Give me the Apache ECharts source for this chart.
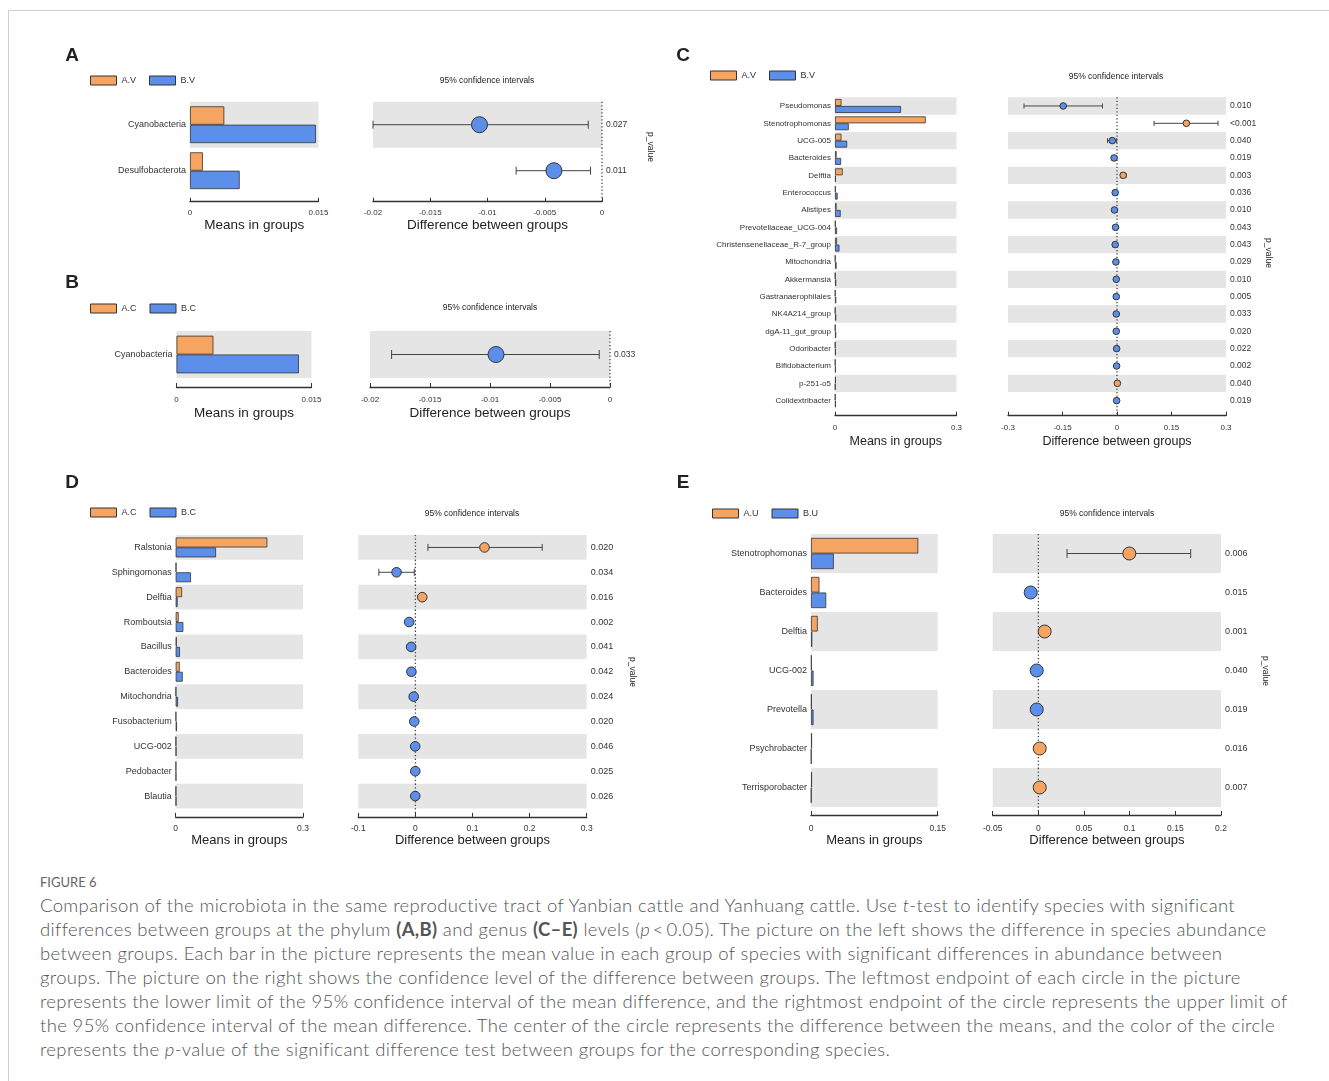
<!DOCTYPE html>
<html>
<head>
<meta charset="utf-8">
<title>Figure 6</title>
<script src="https://cdn.jsdelivr.net/npm/echarts@6.0.0/dist/echarts.min.js"></script>
<style>
  html, body { margin: 0; padding: 0; background: #fff; }
  body { width: 1329px; height: 1081px; position: relative; overflow: hidden; }
  #frame { position: absolute; left: 8px; top: 10px; right: 0; bottom: 0; border-top: 1px solid #cfcfcf; border-left: 1px solid #cfcfcf; }
  #main { position: absolute; left: 0; top: 0; width: 1329px; height: 860px; }
  #caption { position: absolute; left: 40px; top: 873px; font-family: Lato, 'Open Sans', sans-serif; color: #555; }
  #caption .fig { font-size: 13px; line-height: 18px; color: #666; }
  #caption .txt { font-size: 18.5px; line-height: 24px; letter-spacing: 0.35px; font-weight: 300; white-space: nowrap; margin-top: 2px; }
  #caption .txt b { font-weight: 700; }
</style>
</head>
<body>
<div id="frame"></div>
<div id="main"></div>
<div id="caption">
  <div class="fig">FIGURE 6</div>
  <div class="txt">Comparison of the microbiota in the same reproductive tract of Yanbian cattle and Yanhuang cattle. Use <i>t</i>-test to identify species with significant<br>differences between groups at the phylum <b>(A,B)</b> and genus <b>(C–E)</b> levels (<i>p</i>&thinsp;&lt;&thinsp;0.05). The picture on the left shows the difference in species abundance<br>between groups. Each bar in the picture represents the mean value in each group of species with significant differences in abundance between<br>groups. The picture on the right shows the confidence level of the difference between groups. The leftmost endpoint of each circle in the picture<br>represents the lower limit of the 95% confidence interval of the mean difference, and the rightmost endpoint of the circle represents the upper limit of<br>the 95% confidence interval of the mean difference. The center of the circle represents the difference between the means, and the color of the circle<br>represents the <i>p</i>-value of the significant difference test between groups for the corresponding species.</div>
</div>
<script>
// A: phylum level, V
var aGroups = ['A.V', 'B.V'];
var aCats = ['Cyanobacteria', 'Desulfobacterota'];
var aMeanA = [0.0040, 0.0015];
var aMeanB = [0.0147, 0.0058];
var aDiff = [-0.0107, -0.0042];
var aLow = [-0.0200, -0.0075];
var aHigh = [-0.0012, -0.0010];
var aPval = ['0.027', '0.011'];

// B: phylum level, C
var bGroups = ['A.C', 'B.C'];
var bCats = ['Cyanobacteria'];
var bMeanA = [0.0041];
var bMeanB = [0.0136];
var bDiff = [-0.0095];
var bLow = [-0.0182];
var bHigh = [-0.0009];
var bPval = ['0.033'];

// C: genus level, V
var cGroups = ['A.V', 'B.V'];
var cCats = ['Pseudomonas', 'Stenotrophomonas', 'UCG-005', 'Bacteroides', 'Delftia', 'Enterococcus',
  'Alistipes', 'Prevotellaceae_UCG-004', 'Christensenellaceae_R-7_group', 'Mitochondria', 'Akkermansia',
  'Gastranaerophilales', 'NK4A214_group', 'dgA-11_gut_group', 'Odoribacter', 'Bifidobacterium',
  'p-251-o5', 'Colidextribacter'];
var cMeanA = [0.016, 0.224, 0.016, 0.004, 0.019, 0.0015, 0.004, 0.0015, 0.005, 0.001, 0.001, 0.001, 0.001, 0.001, 0.001, 0.001, 0.002, 0.001];
var cMeanB = [0.163, 0.034, 0.030, 0.015, 0.002, 0.0065, 0.014, 0.005, 0.011, 0.004, 0.003, 0.003, 0.003, 0.003, 0.002, 0.002, 0.001, 0.002];
var cDiff = [-0.148, 0.191, -0.013, -0.008, 0.017, -0.005, -0.007, -0.004, -0.005, -0.003, -0.002, -0.002, -0.002, -0.002, -0.001, -0.001, 0.001, -0.001];
var cLow = [-0.256, 0.102, -0.026, -0.012, 0.010, -0.007, -0.010, -0.006, -0.008, -0.005, -0.003, -0.003, -0.003, -0.003, -0.002, -0.002, 0.0005, -0.002];
var cHigh = [-0.040, 0.278, -0.001, -0.003, 0.025, -0.002, -0.003, -0.001, -0.002, -0.001, -0.001, -0.001, -0.001, -0.001, -0.0005, -0.0005, 0.002, -0.0005];
var cPval = ['0.010', '<0.001', '0.040', '0.019', '0.003', '0.036', '0.010', '0.043', '0.043', '0.029', '0.010', '0.005', '0.033', '0.020', '0.022', '0.002', '0.040', '0.019'];

// D: genus level, C
var dGroups = ['A.C', 'B.C'];
var dCats = ['Ralstonia', 'Sphingomonas', 'Delftia', 'Romboutsia', 'Bacillus', 'Bacteroides',
  'Mitochondria', 'Fusobacterium', 'UCG-002', 'Pedobacter', 'Blautia'];
var dMeanA = [0.216, 0.0015, 0.015, 0.007, 0.0025, 0.0095, 0.001, 0.001, 0.001, 0.001, 0.001];
var dMeanB = [0.095, 0.036, 0.0045, 0.018, 0.010, 0.0165, 0.0055, 0.003, 0.0015, 0.0012, 0.0014];
var dDiff = [0.121, -0.033, 0.012, -0.011, -0.0075, -0.007, -0.003, -0.002, -0.0004, -0.0002, -0.0003];
var dLow = [0.022, -0.064, 0.008, -0.014, -0.010, -0.009, -0.005, -0.003, -0.001, -0.001, -0.001];
var dHigh = [0.222, -0.002, 0.015, -0.007, -0.004, -0.004, -0.001, -0.0005, 0.0004, 0.0003, 0.0004];
var dPval = ['0.020', '0.034', '0.016', '0.002', '0.041', '0.042', '0.024', '0.020', '0.046', '0.025', '0.026'];

// E: genus level, U
var eGroups = ['A.U', 'B.U'];
var eCats = ['Stenotrophomonas', 'Bacteroides', 'Delftia', 'UCG-002', 'Prevotella', 'Psychrobacter', 'Terrisporobacter'];
var eMeanA = [0.127, 0.010, 0.008, 0.0008, 0.0008, 0.0012, 0.0012];
var eMeanB = [0.027, 0.018, 0.0015, 0.003, 0.003, 0.0005, 0.0005];
var eDiff = [0.0996, -0.0084, 0.0069, -0.0018, -0.0018, 0.0015, 0.0015];
var eLow = [0.0314, -0.011, 0.005, -0.003, -0.003, 0.0005, 0.0005];
var eHigh = [0.1668, -0.006, 0.009, -0.0006, -0.0006, 0.0025, 0.0025];
var ePval = ['0.006', '0.015', '0.001', '0.040', '0.019', '0.016', '0.007'];

var ORANGE = '#F5A561';
var BLUE = '#5C8FEA';
var LINE = '#333';
var BAND = '#E5E5E5';
var FONT = '"Liberation Sans", Arial, sans-serif';

var grid = [], xAxis = [], yAxis = [], series = [], legend = [], graphic = [];

// dotted zero line piece + error bar + circle for one row
function ciRenderer(r, cap, n, extra) {
  return function (params, api) {
    var row = api.value(0);
    var a = api.coord([api.value(1), row]);
    var b = api.coord([api.value(2), row]);
    var m = api.coord([api.value(3), row]);
    var z = api.coord([0, row]);
    var half = api.size([0, 1])[1] / 2;
    var st = { stroke: '#444', lineWidth: 1 };
    return {
      type: 'group',
      children: [
        { type: 'line',
          shape: { x1: z[0], y1: z[1] - half, x2: z[0], y2: z[1] + half + (params.dataIndex === n - 1 ? extra : 0) },
          style: { stroke: '#444', lineWidth: 1.3, lineDash: [1.3, 2.2] } },
        { type: 'line', shape: { x1: a[0], y1: a[1], x2: b[0], y2: b[1] }, style: st },
        { type: 'line', shape: { x1: a[0], y1: a[1] - cap, x2: a[0], y2: a[1] + cap }, style: st },
        { type: 'line', shape: { x1: b[0], y1: b[1] - cap, x2: b[0], y2: b[1] + cap }, style: st },
        { type: 'circle', shape: { cx: m[0], cy: m[1], r: r },
          style: { fill: api.value(3) > 0 ? ORANGE : BLUE, stroke: LINE, lineWidth: 1 } }
      ]
    };
  };
}

function text(x, y, str, font, rot) {
  graphic.push({
    type: 'text', x: x, y: y, rotation: rot || 0, silent: true,
    style: { text: str, font: font, fill: '#222', align: 'center', verticalAlign: 'middle',
      textAlign: 'center', textVerticalAlign: 'middle' }
  });
}

function addPanel(d, lay) {
  var g = grid.length;
  grid.push({ left: lay.barLeft, top: lay.top, width: lay.barWidth, height: lay.height, outerBoundsMode: 'none' });
  grid.push({ left: lay.ciLeft, top: lay.top, width: lay.ciWidth, height: lay.height, outerBoundsMode: 'none' });

  [[0, lay.barMax, lay.barMax, 'Means in groups'],
   [lay.ciMin, lay.ciMax, lay.ciStep, 'Difference between groups']].forEach(function (a, k) {
    xAxis.push({
      gridIndex: g + k, type: 'value', min: a[0], max: a[1], interval: a[2],
      offset: lay.axisOffset, name: a[3], nameLocation: 'middle', nameGap: lay.nameGap,
      nameMoveOverlap: false,
      nameTextStyle: { fontSize: lay.nameFont, color: '#222', fontFamily: FONT },
      axisLine: { show: true, onZero: false, lineStyle: { color: LINE, width: 1.4 } },
      axisTick: { show: true, inside: true, length: 4, lineStyle: { color: LINE, width: 1 } },
      axisLabel: { fontSize: lay.tickFont, color: '#333', margin: lay.labelMargin, fontFamily: FONT,
        showMinLabel: true, showMaxLabel: true },
      splitLine: { show: false }
    });
  });

  var bands = { show: true, interval: 0, areaStyle: { color: [BAND, 'rgba(255,255,255,0)'] } };
  yAxis.push({
    gridIndex: g, type: 'category', data: d.cats, inverse: true,
    axisLine: { show: false }, axisTick: { show: false }, splitLine: { show: false },
    axisLabel: { interval: 0, fontSize: lay.catFont, color: '#333', margin: 4, fontFamily: FONT },
    splitArea: bands
  });
  yAxis.push({
    gridIndex: g + 1, type: 'category', data: d.cats, inverse: true, position: 'right',
    axisLine: { show: false }, axisTick: { show: false }, splitLine: { show: false },
    axisLabel: { interval: 0, fontSize: lay.pFont, color: '#333', margin: 4, fontFamily: FONT,
      formatter: function (v, i) { return d.pval[i]; } },
    splitArea: bands
  });

  series.push({
    type: 'bar', name: d.groups[0], xAxisIndex: g, yAxisIndex: g, data: d.meanA,
    barGap: '0%', barCategoryGap: '20%', silent: true,
    itemStyle: { color: ORANGE, borderColor: LINE, borderWidth: 0.8 }
  });
  series.push({
    type: 'bar', name: d.groups[1], xAxisIndex: g, yAxisIndex: g, data: d.meanB,
    barGap: '0%', barCategoryGap: '20%', silent: true,
    itemStyle: { color: BLUE, borderColor: LINE, borderWidth: 0.8 }
  });
  series.push({
    type: 'custom', xAxisIndex: g + 1, yAxisIndex: g + 1, silent: true,
    data: d.cats.map(function (c, i) { return [i, d.low[i], d.high[i], d.diff[i]]; }),
    encode: { x: [1, 2, 3], y: 0 },
    renderItem: ciRenderer(lay.r, lay.cap, d.cats.length, lay.axisOffset - 1)
  });

  legend.push({
    data: d.groups, left: lay.legendLeft, top: lay.legendTop, padding: 0, orient: 'horizontal',
    itemWidth: 26, itemHeight: 9, itemGap: 13, icon: 'rect', selectedMode: false,
    textStyle: { fontSize: 9, color: '#333', fontFamily: FONT },
    itemStyle: { borderColor: LINE, borderWidth: 1 }
  });

  text(lay.letter[0], lay.letter[1], lay.letter[2], 'bold 19px ' + FONT);
  text(lay.title[0], lay.title[1], '95% confidence intervals', '8.5px ' + FONT);
  if (lay.pLabel) text(lay.pLabel[0], lay.pLabel[1], 'p_value', '8.5px ' + FONT, -Math.PI / 2);
}

addPanel(
  { groups: aGroups, cats: aCats, meanA: aMeanA, meanB: aMeanB, diff: aDiff, low: aLow, high: aHigh, pval: aPval },
  { top: 101.7, height: 92, barLeft: 190, barWidth: 128.5, ciLeft: 373, ciWidth: 229,
    barMax: 0.015, ciMin: -0.02, ciMax: 0, ciStep: 0.005,
    axisOffset: 8, labelMargin: 7, nameGap: 17, nameFont: 13.5, tickFont: 8, catFont: 9, pFont: 8.5,
    r: 8, cap: 4, legendLeft: 90, legendTop: 75.5,
    letter: [72, 56, 'A'], title: [487, 80.5], pLabel: [650, 147] });

addPanel(
  { groups: bGroups, cats: bCats, meanA: bMeanA, meanB: bMeanB, diff: bDiff, low: bLow, high: bHigh, pval: bPval },
  { top: 331, height: 47, barLeft: 176.5, barWidth: 135, ciLeft: 370, ciWidth: 240,
    barMax: 0.015, ciMin: -0.02, ciMax: 0, ciStep: 0.005,
    axisOffset: 9, labelMargin: 9, nameGap: 19, nameFont: 13.5, tickFont: 8, catFont: 9, pFont: 8.5,
    r: 8, cap: 4.5, legendLeft: 90, legendTop: 303.5,
    letter: [72, 283, 'B'], title: [490, 308], pLabel: null });

addPanel(
  { groups: cGroups, cats: cCats, meanA: cMeanA, meanB: cMeanB, diff: cDiff, low: cLow, high: cHigh, pval: cPval },
  { top: 97.3, height: 312, barLeft: 835, barWidth: 121.5, ciLeft: 1008, ciWidth: 218,
    barMax: 0.3, ciMin: -0.3, ciMax: 0.3, ciStep: 0.15,
    axisOffset: 6.4, labelMargin: 8, nameGap: 19, nameFont: 12.5, tickFont: 8, catFont: 8, pFont: 8.5,
    r: 3.3, cap: 2.5, legendLeft: 710, legendTop: 70.5,
    letter: [683, 56, 'C'], title: [1116, 76.7], pLabel: [1268, 253] });

addPanel(
  { groups: dGroups, cats: dCats, meanA: dMeanA, meanB: dMeanB, diff: dDiff, low: dLow, high: dHigh, pval: dPval },
  { top: 535, height: 273.5, barLeft: 175.7, barWidth: 127.3, ciLeft: 358.3, ciWidth: 228.4,
    barMax: 0.3, ciMin: -0.1, ciMax: 0.3, ciStep: 0.1,
    axisOffset: 8.4, labelMargin: 7, nameGap: 17, nameFont: 13, tickFont: 8.5, catFont: 9, pFont: 9,
    r: 4.8, cap: 3.5, legendLeft: 90, legendTop: 507.5,
    letter: [72, 483, 'D'], title: [472, 514], pLabel: [632, 672] });

addPanel(
  { groups: eGroups, cats: eCats, meanA: eMeanA, meanB: eMeanB, diff: eDiff, low: eLow, high: eHigh, pval: ePval },
  { top: 534, height: 273, barLeft: 811, barWidth: 126.7, ciLeft: 992.7, ciWidth: 228.3,
    barMax: 0.15, ciMin: -0.05, ciMax: 0.2, ciStep: 0.05,
    axisOffset: 8, labelMargin: 9, nameGap: 18.5, nameFont: 13, tickFont: 8.5, catFont: 9, pFont: 9,
    r: 6.5, cap: 4.5, legendLeft: 712, legendTop: 508.5,
    letter: [683, 483, 'E'], title: [1107, 514], pLabel: [1265, 671] });

var myChart = echarts.init(document.getElementById('main'));
myChart.setOption({
  animation: false,
  textStyle: { fontFamily: FONT },
  grid: grid,
  xAxis: xAxis,
  yAxis: yAxis,
  legend: legend,
  series: series,
  graphic: graphic
});
</script>
</body>
</html>
